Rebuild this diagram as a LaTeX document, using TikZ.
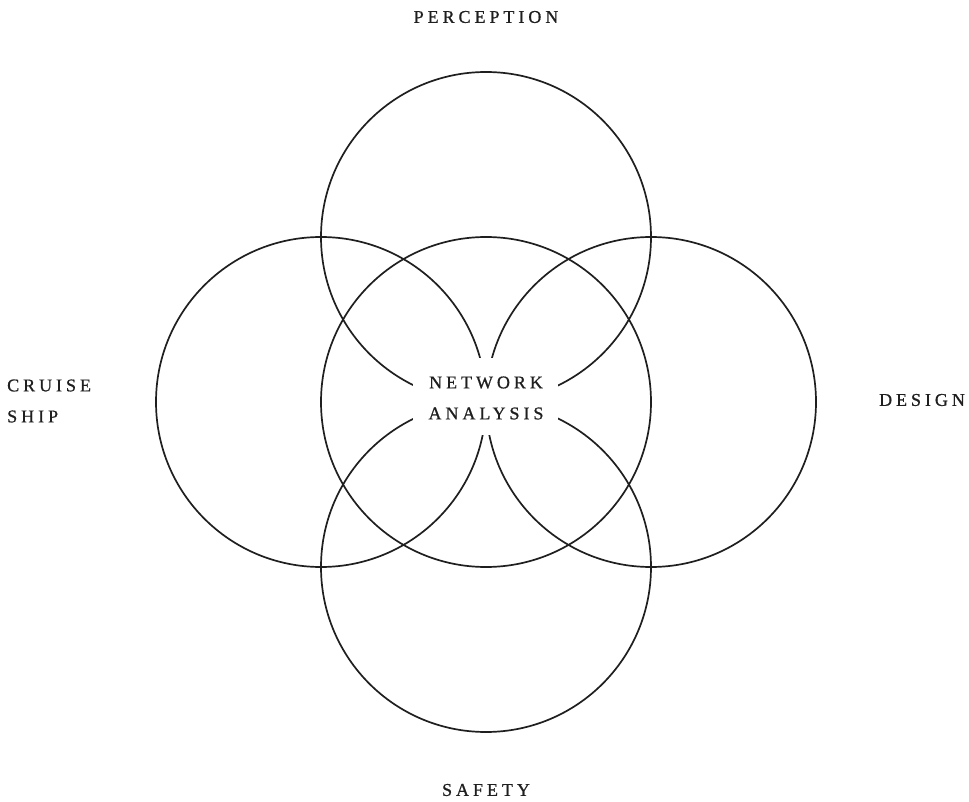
\documentclass[tikz,border=0pt]{standalone}
\usepackage{fontspec}
\newfontfamily\capsfont[LetterSpace=22,FakeBold=0.8]{Liberation Serif}
\begin{document}
\begin{tikzpicture}[x=1pt,y=-1pt,
  ring/.style={draw=black!88,line width=1.7pt},
  tag/.style={font=\capsfont\fontsize{18}{31}\selectfont,text=black!88,inner sep=0pt}]
\useasboundingbox (0,0) rectangle (969,802);
% five overlapping circles
\node[ring,circle,minimum size=330pt] (top) at (486,237) {};
\node[ring,circle,minimum size=330pt] (left) at (321,402) {};
\node[ring,circle,minimum size=330pt] (mid) at (486,402) {};
\node[ring,circle,minimum size=330pt] (right) at (651,402) {};
\node[ring,circle,minimum size=330pt] (bottom) at (486,567) {};
% central label knocks out the crossings behind it
\node[fill=white,minimum width=145pt,minimum height=77pt,inner sep=0pt] (hubbg) at (485.5,396.5) {};
\node[tag,align=center] (hub) at (486,398) {NETWORK\\ANALYSIS};
% outer labels
\node[tag] (perception) at (486,17) {PERCEPTION};
\node[tag,align=left,anchor=west] (cruise) at (7,401) {CRUISE\\SHIP};
\node[tag] (design) at (922,400) {DESIGN};
\node[tag] (safety) at (486,790) {SAFETY};
\end{tikzpicture}
\end{document}
